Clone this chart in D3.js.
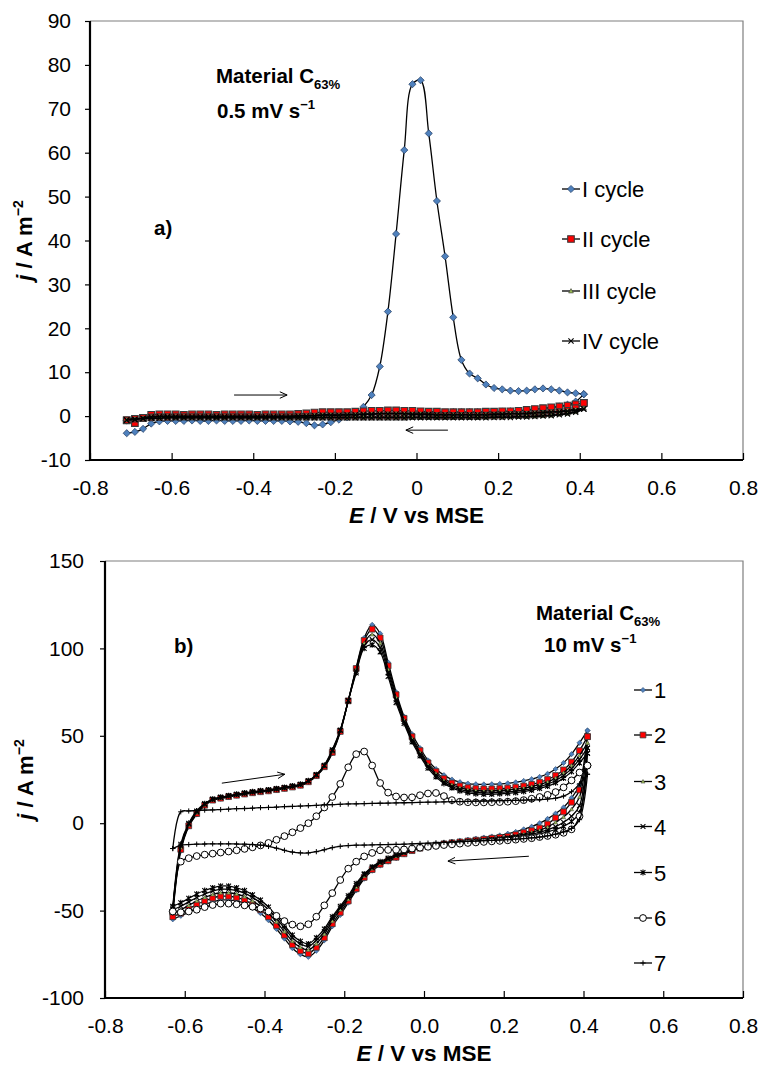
<!DOCTYPE html>
<html>
<head>
<meta charset="utf-8">
<script src="https://cdn.jsdelivr.net/npm/d3@7"></script>
<style>
  body { margin: 0; background: #fff; }
  svg { display: block; font-family: 'Liberation Sans', Arial, sans-serif; }
</style>
</head>
<body>
<div id="chart"></div>
<script>
// ---------- panel a) : 0.5 mV/s, 4 cycles ----------
const eA = [
  -0.71, -0.69, -0.67, -0.65, -0.63, -0.61, -0.59, -0.57, -0.55, -0.53,
  -0.51, -0.49, -0.47, -0.45, -0.43, -0.41, -0.39, -0.37, -0.35, -0.33,
  -0.31, -0.29, -0.27, -0.25, -0.23, -0.21, -0.19, -0.17, -0.15, -0.13,
  -0.11, -0.09, -0.07, -0.05, -0.03, -0.01, 0.01, 0.03, 0.05, 0.07,
  0.09, 0.11, 0.13, 0.15, 0.17, 0.19, 0.21, 0.23, 0.25, 0.27,
  0.29, 0.31, 0.33, 0.35, 0.37, 0.39, 0.41
]
// forward scan values follow eA, reverse scan values follow eA backwards (0.41 -> -0.71)
const cycIFwd = [
  -3.9, -3.6, -2.9, -1.7, -1.2, -1.1, -1.1, -1.1, -1.0, -1.1,
  -1.1, -1.0, -1.1, -1.1, -1.1, -1.0, -1.1, -1.1, -1.1, -1.1,
  -1.2, -1.3, -1.6, -2.1, -1.9, -1.4, -0.8, -0.3, 0.4, 2.1,
  4.8, 11.3, 23.8, 41.5, 60.6, 75.6, 76.5, 64.4, 49.0, 36.4,
  22.5, 12.8, 9.7, 8.6, 7.2, 6.4, 6.1, 5.8, 5.7, 5.8,
  6.1, 6.3, 6.1, 5.8, 5.4, 5.2, 5.0
]
const cycIRev = [
  5.0, 3.3, 2.6, 2.2, 1.9, 1.7, 1.5, 1.3, 1.2, 1.1,
  1.0, 1.0, 0.9, 0.9, 0.9, 0.9, 0.9, 0.8, 0.8, 0.8,
  0.8, 0.7, 0.7, 0.6, 0.6, 0.5, 0.5, 0.5, 0.4, 0.4,
  0.4, 0.3, 0.3, 0.3, 0.2, 0.2, 0.2, 0.2, 0.1, 0.1,
  0.1, 0.1, 0.1, 0.0, 0.0, 0.0, 0.0, 0.0, 0.0, 0.0,
  0.0, -0.1, -0.2, -0.3, -0.5, -0.8, -1.0
]
const cycIIFwd = [
  -1.0, -1.6, -0.4, 0.3, 0.4, 0.4, 0.4, 0.3, 0.4, 0.4,
  0.4, 0.3, 0.4, 0.4, 0.4, 0.4, 0.3, 0.4, 0.4, 0.4,
  0.4, 0.5, 0.6, 0.8, 0.9, 0.9, 0.9, 0.9, 1.0, 1.1,
  1.2, 1.2, 1.3, 1.3, 1.2, 1.2, 1.1, 1.0, 1.0, 0.9,
  0.9, 0.9, 0.9, 0.9, 1.0, 1.0, 1.1, 1.1, 1.2, 1.4,
  1.6, 1.8, 2.0, 2.2, 2.4, 2.7, 3.0
]
const cycIIRev = [
  3.0, 1.8, 1.2, 0.9, 0.7, 0.5, 0.4, 0.3, 0.2, 0.2,
  0.1, 0.1, 0.1, 0.0, 0.0, 0.0, 0.0, 0.0, 0.0, 0.0,
  0.0, 0.0, -0.1, -0.1, -0.1, -0.1, -0.1, -0.1, -0.1, -0.1,
  -0.1, -0.1, -0.1, -0.1, -0.1, -0.1, -0.1, -0.1, -0.1, -0.1,
  -0.1, -0.1, -0.1, -0.1, -0.1, -0.1, -0.1, -0.1, -0.1, -0.1,
  -0.1, -0.2, -0.2, -0.3, -0.4, -0.6, -0.9
]
const cycIIIFwd = [
  -0.8, -0.7, -0.4, -0.1, 0.0, 0.0, 0.0, 0.0, 0.0, 0.0,
  0.0, 0.0, 0.0, 0.0, 0.0, 0.0, 0.0, 0.0, 0.0, 0.0,
  0.0, 0.1, 0.1, 0.2, 0.3, 0.3, 0.3, 0.4, 0.4, 0.5,
  0.5, 0.6, 0.6, 0.6, 0.6, 0.5, 0.5, 0.5, 0.4, 0.4,
  0.4, 0.4, 0.4, 0.4, 0.4, 0.5, 0.5, 0.6, 0.6, 0.7,
  0.8, 0.9, 1.0, 1.1, 1.3, 1.5, 1.8
]
const cycIIIRev = [
  1.8, 1.0, 0.6, 0.4, 0.2, 0.1, 0.0, -0.1, -0.1, -0.2,
  -0.2, -0.2, -0.3, -0.3, -0.3, -0.3, -0.3, -0.3, -0.3, -0.3,
  -0.3, -0.3, -0.3, -0.3, -0.3, -0.3, -0.3, -0.3, -0.3, -0.3,
  -0.3, -0.3, -0.3, -0.3, -0.3, -0.3, -0.3, -0.3, -0.3, -0.3,
  -0.3, -0.3, -0.3, -0.3, -0.3, -0.3, -0.3, -0.3, -0.3, -0.3,
  -0.3, -0.3, -0.4, -0.4, -0.5, -0.6, -0.8
]
const cycIVFwd = [
  -0.9, -0.8, -0.5, -0.2, -0.1, -0.1, -0.1, -0.1, -0.1, -0.1,
  -0.1, -0.1, -0.1, -0.1, -0.1, -0.1, -0.1, -0.1, -0.1, -0.1,
  -0.1, 0.0, 0.0, 0.1, 0.2, 0.2, 0.2, 0.3, 0.3, 0.4,
  0.4, 0.5, 0.5, 0.5, 0.5, 0.4, 0.4, 0.4, 0.3, 0.3,
  0.3, 0.3, 0.3, 0.3, 0.3, 0.4, 0.4, 0.5, 0.5, 0.6,
  0.7, 0.8, 0.9, 1.0, 1.1, 1.3, 1.6
]
const cycIVRev = [
  1.6, 0.9, 0.5, 0.3, 0.1, 0.0, -0.1, -0.2, -0.2, -0.3,
  -0.3, -0.3, -0.4, -0.4, -0.4, -0.4, -0.4, -0.4, -0.4, -0.4,
  -0.4, -0.4, -0.4, -0.4, -0.4, -0.4, -0.4, -0.4, -0.4, -0.4,
  -0.4, -0.4, -0.4, -0.4, -0.4, -0.4, -0.4, -0.4, -0.4, -0.4,
  -0.4, -0.4, -0.4, -0.4, -0.4, -0.4, -0.4, -0.4, -0.4, -0.4,
  -0.4, -0.4, -0.5, -0.5, -0.6, -0.7, -0.9
]
const namesA = ['I cycle', 'II cycle', 'III cycle', 'IV cycle']
const xTicksA = [-0.8, -0.6, -0.4, -0.2, 0, 0.2, 0.4, 0.6, 0.8]
const xTickLabelsA = ['-0.8', '-0.6', '-0.4', '-0.2', '0', '0.2', '0.4', '0.6', '0.8']
const yTicksA = [-10, 0, 10, 20, 30, 40, 50, 60, 70, 80, 90]
const yTickLabelsA = ['-10', '0', '10', '20', '30', '40', '50', '60', '70', '80', '90']

// ---------- panel b) : 10 mV/s, 7 cycles ----------
const eB = [
  -0.63, -0.61, -0.59, -0.57, -0.55, -0.53, -0.51, -0.49, -0.47, -0.45,
  -0.43, -0.41, -0.39, -0.37, -0.35, -0.33, -0.31, -0.29, -0.27, -0.25,
  -0.23, -0.21, -0.19, -0.17, -0.15, -0.13, -0.11, -0.09, -0.07, -0.05,
  -0.03, -0.01, 0.01, 0.03, 0.05, 0.07, 0.09, 0.11, 0.13, 0.15,
  0.17, 0.19, 0.21, 0.23, 0.25, 0.27, 0.29, 0.31, 0.33, 0.35,
  0.37, 0.39, 0.41
]
const c1Fwd = [
  -52, -16, -2, 5, 10, 13, 14, 15, 15.8, 16.5,
  17.2, 17.8, 18.3, 19, 19.7, 20.5, 21.5, 23.5, 27, 32,
  40, 52, 70, 89, 106, 113.5, 108.5, 92, 75, 61,
  51, 43, 36, 31, 27.5, 25, 23.5, 22.7, 22.3, 22.2,
  22.3, 22.5, 22.8, 23.4, 24.2, 25.2, 26.5, 28.3, 31, 34.5,
  39.5, 46, 53
]
const c1Rev = [
  53, 22, 14.5, 9, 5.5, 2.5, 0, -2, -3.5, -5,
  -6, -7, -7.6, -8.2, -8.8, -9.4, -10, -10.6, -11.3, -12,
  -13, -14.2, -15.8, -17.8, -20, -22, -24.2, -27.2, -31.8, -38.5,
  -45.5, -52.5, -59, -67, -73, -76.5, -75, -71.5, -66, -60.5,
  -55.5, -51.5, -48.5, -46, -44.5, -44, -44, -45, -46.5, -48.5,
  -51, -53, -55
]
const c2Fwd = [
  -51, -15, -1.5, 5.5, 10.3, 13.2, 14.3, 15.2, 16, 16.7,
  17.4, 18, 18.5, 19.2, 19.9, 20.7, 21.7, 23.7, 27.2, 32.3,
  40.5, 52.5, 70, 88.5, 104.5, 111, 106, 90, 73.5, 60,
  49.5, 41.5, 34.5, 29.5, 25.5, 23, 21.3, 20.3, 19.8, 19.6,
  19.6, 19.8, 20.1, 20.6, 21.3, 22.2, 23.4, 25, 27.3, 30.5,
  35, 41.5, 49.5
]
const c2Rev = [
  49.5, 19, 12, 6.5, 3, -0.5, -2.8, -4.3, -5.4, -6.6,
  -7.6, -8.1, -8.6, -9.2, -9.7, -10.2, -10.7, -11.2, -11.8, -12.5,
  -13.3, -14.3, -15.7, -17.5, -19.5, -21.5, -23.5, -26.5, -31, -37.5,
  -44.5, -51, -57.5, -65.5, -71, -74.5, -73, -69.5, -64, -58.5,
  -53.5, -49.5, -46.5, -44, -42.5, -41.8, -41.8, -42.8, -44.5, -46.5,
  -49, -51.5, -53.5
]
const c3Fwd = [
  -50, -14, -1, 6, 10.6, 13.4, 14.5, 15.4, 16.2, 16.9,
  17.6, 18.2, 18.7, 19.4, 20.1, 20.9, 21.9, 23.9, 27.4, 32.6,
  41, 52.8, 70, 88, 103, 108, 103, 88, 72, 59,
  48.5, 40.5, 33.5, 28.5, 24.5, 22, 20.3, 19.2, 18.7, 18.5,
  18.5, 18.7, 19, 19.5, 20.1, 21, 22.1, 23.6, 25.8, 28.9,
  33, 38.8, 46
]
const c3Rev = [
  46, 15, 8, 3.5, 0.5, -2.2, -4, -5.2, -6.2, -7.2,
  -8, -8.5, -9, -9.5, -10, -10.4, -10.9, -11.4, -12, -12.6,
  -13.3, -14.2, -15.5, -17.2, -19, -21, -23, -26, -30.3, -36.5,
  -43.5, -49.5, -56, -63.5, -69, -72.5, -71, -67.5, -62, -56.5,
  -51.5, -47.5, -44.5, -42, -40.5, -39.8, -39.8, -40.8, -42.5, -44.5,
  -47, -49.5, -51.5
]
const c4Fwd = [
  -49, -13, -0.5, 6.5, 10.9, 13.6, 14.7, 15.6, 16.4, 17.1,
  17.8, 18.4, 18.9, 19.6, 20.3, 21.1, 22.1, 24.1, 27.6, 32.9,
  41.5, 53, 70, 87, 101.5, 105, 100.5, 86, 70.5, 58,
  47.5, 39.5, 32.5, 27.5, 23.5, 21, 19.3, 18.2, 17.6, 17.4,
  17.4, 17.6, 17.9, 18.4, 19, 19.8, 20.9, 22.3, 24.4, 27.3,
  31.2, 36.6, 43
]
const c4Rev = [
  43, 10, 4, 0.5, -2, -3.8, -5.2, -6.2, -7, -7.8,
  -8.4, -8.9, -9.4, -9.8, -10.2, -10.6, -11, -11.5, -12, -12.6,
  -13.2, -14, -15.2, -16.8, -18.5, -20.5, -22.5, -25.5, -29.5, -35.5,
  -42.5, -48.5, -54.5, -62, -67, -70.5, -69, -65.5, -60, -54.5,
  -49.5, -45.5, -42.5, -40, -38.5, -37.8, -37.8, -38.8, -40.5, -42.5,
  -45, -47.5, -49.5
]
const c5Fwd = [
  -48, -12, 0, 7, 11.2, 13.8, 14.9, 15.8, 16.6, 17.3,
  18, 18.6, 19.1, 19.8, 20.5, 21.3, 22.3, 24.3, 27.8, 33.2,
  42, 53.3, 70, 86, 100, 102, 98, 84, 69, 57,
  46.5, 38.5, 31.5, 26.5, 22.7, 20.2, 18.5, 17.4, 16.8, 16.6,
  16.6, 16.8, 17.1, 17.5, 18.1, 18.9, 19.9, 21.2, 23.1, 25.8,
  29.5, 34.5, 40
]
const c5Rev = [
  40, 6, 1, -1.8, -3.6, -5, -6.2, -7, -7.7, -8.3,
  -8.8, -9.2, -9.6, -10, -10.4, -10.8, -11.2, -11.6, -12.1, -12.6,
  -13.2, -14, -15, -16.5, -18, -20, -22, -25, -29, -34.5,
  -41.5, -47.5, -53.5, -60.5, -65.5, -69, -67.5, -64, -58.5, -53,
  -48, -44, -41, -38.5, -37, -36, -36, -37, -38.5, -40.5,
  -43, -45.5, -47.5
]
const c6Fwd = [
  -50.5, -22, -20, -18.8, -18, -17.4, -16.8, -16.2, -15.5, -14.7,
  -13.8, -12.7, -11.3, -9.5, -7.4, -5.2, -2.8, 0, 4, 9,
  15, 22.5, 32, 39.5, 41, 33, 23, 17.5, 15.3, 14.7,
  14.8, 16, 17, 17.3, 15.5, 13.2, 12.3, 12, 11.9, 11.9,
  12, 12.1, 12.3, 12.6, 13.2, 14, 15, 16.2, 17.8, 20.5,
  24.5, 29, 33
]
const c6Rev = [
  33, 4, -3.5, -5.5, -6.6, -7.3, -7.9, -8.6, -9, -9.4,
  -9.8, -10.1, -10.4, -10.7, -11, -11.3, -11.7, -12.1, -12.5, -13,
  -13.5, -14, -14.5, -15, -15.2, -15.3, -15.5, -17, -19, -22,
  -26, -32.5, -40, -47, -53.5, -57.8, -59, -58, -56, -53,
  -50.5, -48.8, -47.8, -47, -46.4, -46, -46, -46.8, -48, -49.5,
  -50.5, -51, -50.5
]
const c7Fwd = [
  -14.5, 6.5, 7, 7.2, 7.5, 7.6, 7.8, 8, 8.3, 8.4,
  8.6, 8.9, 9, 9.2, 9.5, 9.6, 9.8, 10, 10.2, 10.5,
  10.6, 10.8, 11, 11.1, 11.2, 11.3, 11.4, 11.5, 11.6, 11.7,
  11.8, 11.9, 12, 12.1, 12.2, 12.3, 12.4, 12.5, 12.6, 12.7,
  12.8, 12.9, 13, 13.1, 13.2, 13.3, 13.5, 13.8, 14.3, 15.5,
  18, 22.5, 28
]
const c7Rev = [
  28, 2, -3, -5, -6.3, -7.2, -7.9, -8.4, -8.8, -9.1,
  -9.4, -9.6, -9.8, -10, -10.2, -10.4, -10.6, -10.8, -11, -11.2,
  -11.4, -11.6, -11.8, -12, -12.1, -12.2, -12.3, -12.4, -12.5, -12.6,
  -12.8, -13.2, -14, -15.2, -16.3, -17, -17, -16.5, -15.5, -14.3,
  -13.3, -12.6, -12.2, -12, -11.9, -11.8, -11.8, -11.8, -11.9, -12,
  -12.2, -12.6, -14.5
]
const namesB = ['1', '2', '3', '4', '5', '6', '7']
const xTicksB = [-0.8, -0.6, -0.4, -0.2, 0, 0.2, 0.4, 0.6, 0.8]
const xTickLabelsB = ['-0.8', '-0.6', '-0.4', '-0.2', '0.0', '0.2', '0.4', '0.6', '0.8']
const yTicksB = [-100, -50, 0, 50, 100, 150]
const yTickLabelsB = ['-100', '-50', '0', '50', '100', '150']

// scan-direction arrows, in data units [E1, j1, E2, j2]
const arrowsA = [[-0.447, 4.8, -0.317, 4.8], [0.077, -3.2, -0.026, -3.2]]
const arrowsB = [[-0.507, 22.9, -0.349, 28], [0.263, -18.9, 0.06, -21.7]]

const svg = d3.select('#chart').append('svg')
  .attr('width', 761)
  .attr('height', 1065)

// marker shapes (path strings around 0,0)
const shapes = {
  diamond: r => `M0,${-r}L${r},0L0,${r}L${-r},0Z`,
  square: s => `M${-s},${-s}H${s}V${s}H${-s}Z`,
  triangle: s => `M0,${-s}L${s},${s * 0.8}L${-s},${s * 0.8}Z`,
  times: s => `M${-s},${-s}L${s},${s}M${-s},${s}L${s},${-s}`,
  asterisk: s => `M${-s},${-s}L${s},${s}M${-s},${s}L${s},${-s}M0,${-s * 1.2}V${s * 1.2}`,
  plus: s => `M${-s},0H${s}M0,${-s}V${s}`,
  circle: r => `M${r},0A${r},${r} 0 1,1 ${-r},0A${r},${r} 0 1,1 ${r},0Z`
}

function loop (e, fwd, rev) {
  const n = e.length
  return fwd.map((j, i) => [e[i], j]).concat(rev.map((j, i) => [e[n - 1 - i], j]))
}

function drawArrow (g, x1, y1, x2, y2) {
  const a = Math.atan2(y2 - y1, x2 - x1)
  const L = 8
  const w = 0.42
  g.append('path')
    .attr('d', `M${x1},${y1}L${x2},${y2}M${x2 - L * Math.cos(a - w)},${y2 - L * Math.sin(a - w)}L${x2},${y2}L${x2 - L * Math.cos(a + w)},${y2 - L * Math.sin(a + w)}`)
    .attr('fill', 'none')
    .attr('stroke', '#000')
    .attr('stroke-width', 1)
}

// text with optional sub / superscript pieces: [text, 'sub'|'sup'|'it'|null]
function richText (g, x, y, parts, size, bold) {
  const t = g.append('text')
    .attr('x', x)
    .attr('y', y)
    .attr('font-size', size)
    .attr('font-weight', bold ? 'bold' : 'normal')
  let shift = 0
  parts.forEach(p => {
    const ts = t.append('tspan').text(p[0])
    let target = 0
    if (p[1] === 'sub') target = size * 0.28
    if (p[1] === 'sup') target = -size * 0.42
    if (p[1] === 'sub' || p[1] === 'sup') ts.attr('font-size', size * 0.64)
    if (p[1] === 'it') ts.attr('font-style', 'italic')
    ts.attr('dy', target - shift)
    shift = target
  })
  return t
}

function drawPanel (p) {
  const x = d3.scaleLinear().domain([-0.8, 0.8]).range([p.left, p.right])
  const y = d3.scaleLinear().domain(p.yDomain).range([p.bottom, p.top])
  const g = svg.append('g')

  // frame: light top/right, heavy left/bottom
  g.append('path')
    .attr('d', `M${p.left},${p.top}H${p.right}V${p.bottom}`)
    .attr('fill', 'none')
    .attr('stroke', '#7f7f7f')
    .attr('stroke-width', 1.2)

  const xAxis = g.append('g')
    .attr('transform', `translate(0,${p.bottom})`)
    .call(d3.axisBottom(x)
      .tickValues(p.xTicks)
      .tickFormat((d, i) => p.xTickLabels[i])
      .tickSizeInner(-7)
      .tickSizeOuter(0)
      .tickPadding(20))
  xAxis.select('.domain').remove()

  const yAxis = g.append('g')
    .attr('transform', `translate(${p.left},0)`)
    .call(d3.axisLeft(y)
      .tickValues(p.yTicks)
      .tickFormat((d, i) => p.yTickLabels[i])
      .tickSizeInner(5)
      .tickSizeOuter(0)
      .tickPadding(p.yPad))
  yAxis.select('.domain').remove()

  g.selectAll('.tick line').attr('stroke', '#000').attr('stroke-width', 1.2)
  g.selectAll('.tick text')
    .attr('font-size', 21)
    .attr('font-family', "'Liberation Sans', Arial, sans-serif")
    .attr('fill', '#000')

  g.append('path')
    .attr('d', `M${p.left},${p.top}V${p.bottom}H${p.right}`)
    .attr('fill', 'none')
    .attr('stroke', '#000')
    .attr('stroke-width', 2.2)

  // series
  const line = d3.line()
    .x(d => x(d[0]))
    .y(d => y(d[1]))
    .curve(d3.curveCatmullRom.alpha(0.5))

  p.series.forEach(s => {
    g.append('path')
      .datum(s.points)
      .attr('d', line)
      .attr('fill', 'none')
      .attr('stroke', '#000')
      .attr('stroke-width', p.lineWidth)
    g.append('g')
      .selectAll('path')
      .data(s.points)
      .enter()
      .append('path')
      .attr('transform', d => `translate(${x(d[0])},${y(d[1])})`)
      .attr('d', shapes[s.shape](s.size))
      .attr('fill', s.fill)
      .attr('stroke', s.stroke)
      .attr('stroke-width', s.sw)
  })

  // legend
  p.series.forEach((s, i) => {
    const ly = p.legendY[i]
    g.append('line')
      .attr('x1', p.legendX).attr('x2', p.legendX + 18)
      .attr('y1', ly).attr('y2', ly)
      .attr('stroke', '#000')
      .attr('stroke-width', 1.3)
    g.append('path')
      .attr('transform', `translate(${p.legendX + 9},${ly})`)
      .attr('d', shapes[s.shape](s.size))
      .attr('fill', s.fill)
      .attr('stroke', s.stroke)
      .attr('stroke-width', s.sw)
    g.append('text')
      .attr('x', p.legendX + 20)
      .attr('y', ly + 8)
      .attr('font-size', 22)
      .text(s.name)
  })

  p.arrows.forEach(a => drawArrow(g, x(a[0]), y(a[1]), x(a[2]), y(a[3])))

  // axis titles
  richText(g, (p.left + p.right) / 2, p.xTitleY, [['E', 'it'], [' / V vs MSE', null]], 22.5, true)
    .attr('text-anchor', 'middle')
  richText(g, 0, 0, [['j', 'it'], [' / A m', null], ['\u22122', 'sup']], 22, true)
    .attr('text-anchor', 'middle')
    .attr('transform', `translate(${p.yTitleX},${(p.top + p.bottom) / 2}) rotate(-90)`)

  // annotations
  richText(g, p.note.x1, p.note.y1, [['Material C', null], ['63%', 'sub']], 20.5, true)
  richText(g, p.note.x2, p.note.y2, [[p.note.rate, null], ['\u22121', 'sup']], 20.5, true)
  richText(g, p.note.x3, p.note.y3, [[p.note.tag, null]], 20.5, true)
}

const stylesA = [
  { shape: 'diamond', size: 3.6, fill: '#4F81BD', stroke: '#1F3A5F', sw: 0.7 },
  { shape: 'square', size: 3.3, fill: '#FF0000', stroke: '#3a3a3a', sw: 1.1 },
  { shape: 'triangle', size: 2.4, fill: '#9BBB59', stroke: '#3a3a3a', sw: 0.6 },
  { shape: 'times', size: 2.6, fill: 'none', stroke: '#000', sw: 1.1 }
]
const loopsA = [
  loop(eA, cycIFwd, cycIRev),
  loop(eA, cycIIFwd, cycIIRev),
  loop(eA, cycIIIFwd, cycIIIRev),
  loop(eA, cycIVFwd, cycIVRev)
]

drawPanel({
  left: 90, right: 743, top: 21, bottom: 460,
  yDomain: [-10, 90], yTicks: yTicksA, yTickLabels: yTickLabelsA, yPad: 14,
  xTicks: xTicksA, xTickLabels: xTickLabelsA,
  lineWidth: 1.3,
  series: namesA.map((n, i) => Object.assign({ name: n, points: loopsA[i] }, stylesA[i])),
  legendX: 562, legendY: [189, 239, 291, 341],
  arrows: arrowsA,
  xTitleY: 523, yTitleX: 32,
  note: { x1: 216, y1: 83, x2: 217, y2: 118, rate: '0.5 mV s', x3: 154, y3: 235, tag: 'a)' }
})

const stylesB = [
  { shape: 'diamond', size: 2.6, fill: '#4F81BD', stroke: '#1F3A5F', sw: 0.5 },
  { shape: 'square', size: 2.9, fill: '#FF0000', stroke: '#3a3a3a', sw: 0.8 },
  { shape: 'triangle', size: 2, fill: '#9BBB59', stroke: '#3a3a3a', sw: 0.5 },
  { shape: 'times', size: 2.4, fill: 'none', stroke: '#000', sw: 1.1 },
  { shape: 'asterisk', size: 2.4, fill: 'none', stroke: '#000', sw: 1.1 },
  { shape: 'circle', size: 3.4, fill: '#fff', stroke: '#000', sw: 1 },
  { shape: 'plus', size: 2.6, fill: 'none', stroke: '#000', sw: 1 }
]
const loopsB = [
  loop(eB, c1Fwd, c1Rev),
  loop(eB, c2Fwd, c2Rev),
  loop(eB, c3Fwd, c3Rev),
  loop(eB, c4Fwd, c4Rev),
  loop(eB, c5Fwd, c5Rev),
  loop(eB, c6Fwd, c6Rev),
  loop(eB, c7Fwd, c7Rev)
]

drawPanel({
  left: 105, right: 743, top: 561, bottom: 998,
  yDomain: [-100, 150], yTicks: yTicksB, yTickLabels: yTickLabelsB, yPad: 16,
  xTicks: xTicksB, xTickLabels: xTickLabelsB,
  lineWidth: 1.3,
  series: namesB.map((n, i) => Object.assign({ name: n, points: loopsB[i] }, stylesB[i])),
  legendX: 634, legendY: [690, 735, 781.5, 826.5, 872.5, 918, 963],
  arrows: arrowsB,
  xTitleY: 1061, yTitleX: 33,
  note: { x1: 536, y1: 620, x2: 544, y2: 652, rate: '10 mV s', x3: 174, y3: 653, tag: 'b)' }
})
</script>
</body>
</html>
